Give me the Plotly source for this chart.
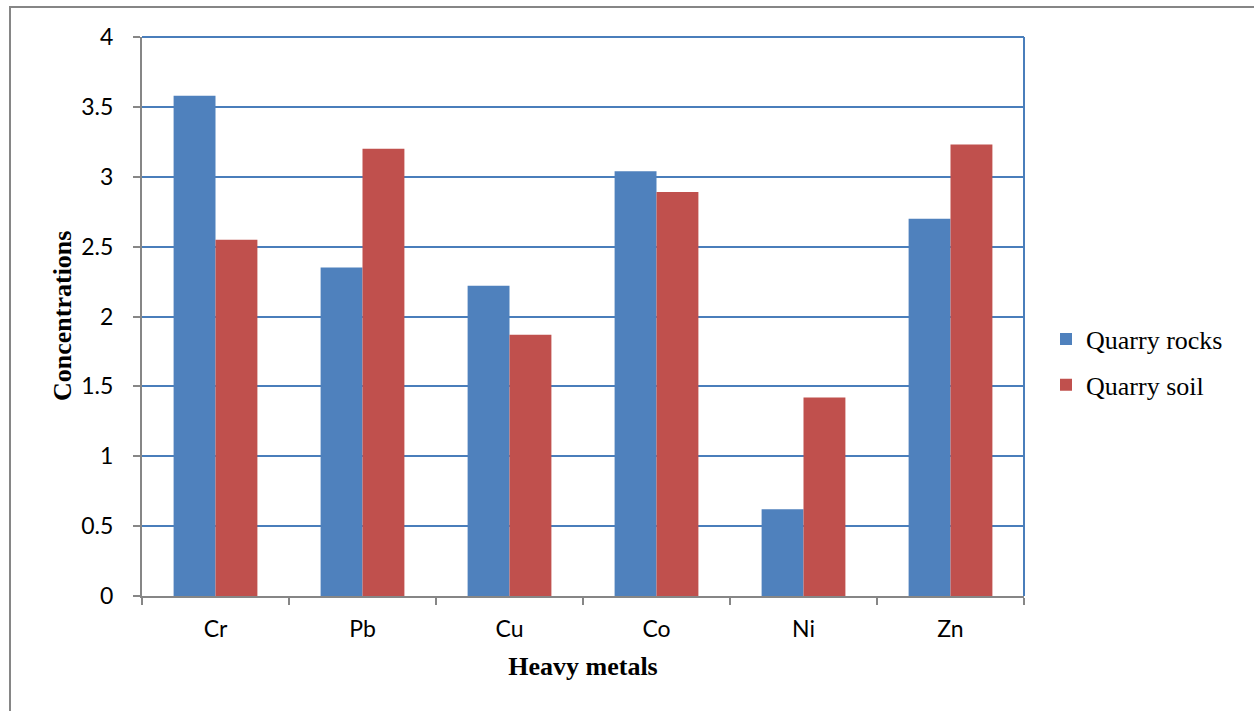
import plotly.graph_objects as go

metals = ["Cr", "Pb", "Cu", "Co", "Ni", "Zn"]
quarry_rocks = [3.58, 2.35, 2.22, 3.04, 0.62, 2.70]
quarry_soil = [2.55, 3.20, 1.87, 2.89, 1.42, 3.23]
y_ticks = [0, 0.5, 1, 1.5, 2, 2.5, 3, 3.5, 4]
y_tick_text = ["0", "0.5", "1", "1.5", "2", "2.5", "3", "3.5", "4"]

W, H = 1254, 711
L, R, T, B = 142, 230, 37, 115
pw, ph = W - L - R, H - T - B

tick_font = dict(family="Lato, Open Sans, sans-serif", size=23, color="#000000")
serif = "Liberation Serif, Times New Roman, serif"

fig = go.Figure()
fig.add_trace(go.Bar(name="Quarry rocks", x=metals, y=quarry_rocks,
                     marker=dict(color="#4F81BD", line=dict(width=0)),
                     legendgroup="a"))
fig.add_trace(go.Bar(name="Quarry soil", x=metals, y=quarry_soil,
                     marker=dict(color="#C0504D", line=dict(width=0)),
                     legendgroup="b"))

fig.update_layout(
    width=W, height=H,
    margin=dict(l=L, r=R, t=T, b=B, autoexpand=False),
    paper_bgcolor="white", plot_bgcolor="white",
    barmode="group", bargap=0.43, bargroupgap=0,
    showlegend=True,
    legend=dict(x=(1046 - L) / pw, xanchor="left",
                y=(596 - 362) / ph, yanchor="middle",
                font=dict(family=serif, size=26, color="#000000"),
                traceorder="grouped", tracegroupgap=9,
                bgcolor="rgba(0,0,0,0)"),
    xaxis=dict(
        showgrid=False, showline=True, linecolor="#868686", linewidth=2,
        ticks="outside", tickson="boundaries", ticklen=7, tickcolor="#868686",
        tickwidth=2, tickfont=tick_font, ticklabelstandoff=11,
        title=dict(text="<b>Heavy metals</b>", font=dict(family=serif, size=26, color="#000000"),
                   standoff=16),
        automargin=False,
    ),
    yaxis=dict(
        range=[0, 4], tickvals=y_ticks, ticktext=y_tick_text,
        showgrid=True, gridcolor="#4A7EBB", gridwidth=1.5,
        showline=True, linecolor="#868686", linewidth=2,
        ticks="outside", ticklen=7, tickcolor="#868686", tickwidth=2,
        tickfont=tick_font, ticklabelstandoff=15, zeroline=False,
        automargin=False,
    ),
    annotations=[
        dict(text="<b>Concentrations</b>", textangle=-90,
             xref="paper", yref="paper", x=(62 - L) / pw, y=(596 - 316) / ph,
             xanchor="center", yanchor="middle", showarrow=False,
             font=dict(family=serif, size=26, color="#000000")),
    ],
    shapes=[
        # top and right edges of the plot area
        dict(type="line", xref="paper", yref="paper", x0=0, x1=1, y0=1, y1=1,
             line=dict(color="#4A7EBB", width=2)),
        dict(type="line", xref="paper", yref="paper", x0=1, x1=1, y0=0, y1=1,
             line=dict(color="#4A7EBB", width=2)),
        # outer chart frame
        dict(type="rect", xref="paper", yref="paper",
             x0=(10 - L) / pw, x1=(W + 20 - L) / pw,
             y0=(596 - (H + 20)) / ph, y1=(596 - 7) / ph,
             line=dict(color="#868686", width=2), fillcolor="rgba(0,0,0,0)",
             layer="below"),
    ],
)

fig.write_html("out.html")
